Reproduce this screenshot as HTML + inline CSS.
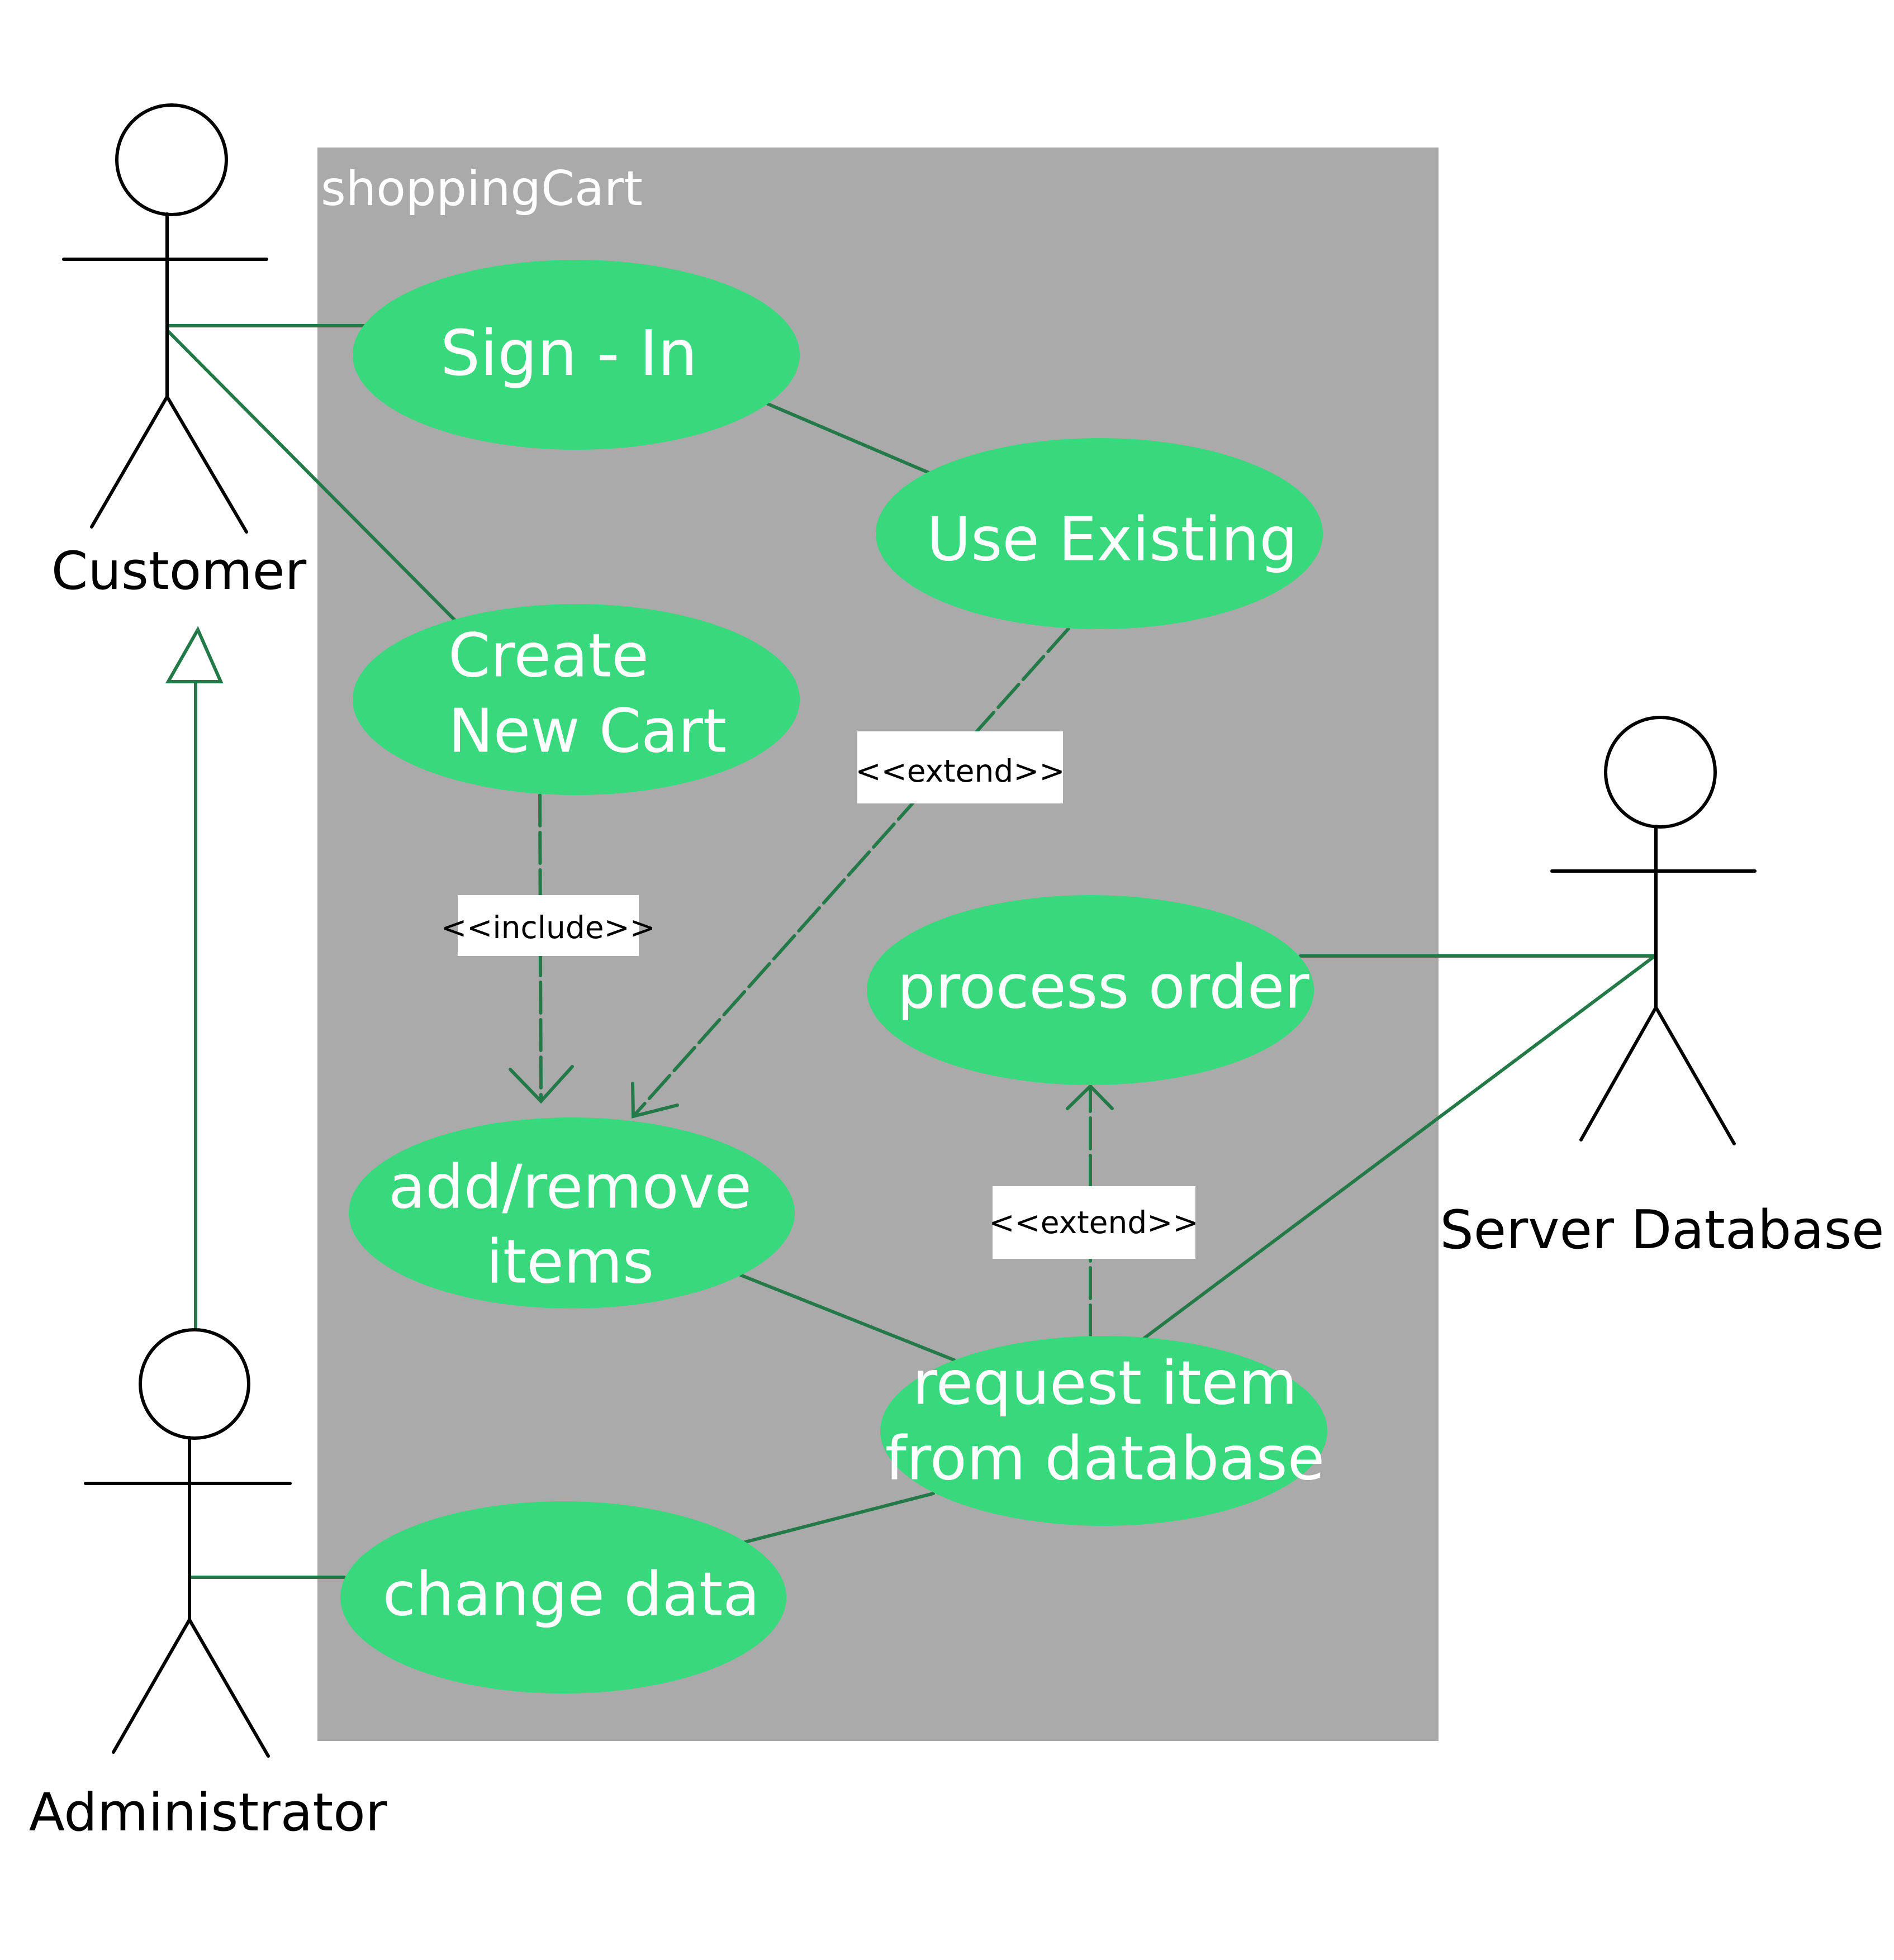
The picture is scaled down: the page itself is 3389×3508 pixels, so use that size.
<!DOCTYPE html>
<html><head><meta charset="utf-8"><style>html,body{margin:0;padding:0;background:#fff}svg{display:block}</style></head>
<body>
<svg width="3389" height="3508" viewBox="0 0 3389 3508" xmlns="http://www.w3.org/2000/svg" font-family="'DejaVu Sans', 'Liberation Sans', sans-serif">
<rect x="568" y="264" width="2006" height="2852" fill="#aaaaaa"/>
<text x="574" y="367" font-size="86" fill="#fff">shoppingCart</text>

<g stroke="#237a48" stroke-width="6" fill="none" stroke-linecap="round">
<line x1="299" y1="583" x2="660" y2="583"/>
<line x1="299" y1="591" x2="813" y2="1109"/>
<line x1="1374" y1="723" x2="1662" y2="846"/>
<line x1="1325" y1="2282" x2="1707" y2="2434"/>
<line x1="1333" y1="2760" x2="1670" y2="2673"/>
<line x1="339" y1="2823" x2="616" y2="2823"/>
<line x1="2961" y1="1711" x2="2327" y2="1711"/>
<line x1="2961" y1="1711" x2="2046" y2="2396"/>
<line x1="350" y1="1220" x2="350" y2="2376"/>
<polygon points="354,1127 301,1220 395,1220"/>
<g stroke-dasharray="55 12">
<line x1="966" y1="1423" x2="968" y2="1969"/>
<line x1="1912" y1="1125" x2="1135" y2="1996"/>
<line x1="1951" y1="2391" x2="1951" y2="1944"/>
</g>
<polyline points="913,1914 968,1971 1024,1909"/>
<polyline points="1132,1939 1133,1998 1212,1978"/>
<polyline points="1910,1984 1951,1944 1990,1984"/>
</g>

<g fill="#38d87c">
<ellipse cx="1031" cy="635" rx="400" ry="170"/>
<ellipse cx="1967" cy="955" rx="400" ry="171"/>
<ellipse cx="1031" cy="1252" rx="400" ry="171"/>
<ellipse cx="1951" cy="1772" rx="400" ry="170"/>
<ellipse cx="1023" cy="2171" rx="399" ry="171"/>
<ellipse cx="1975" cy="2561" rx="400" ry="170"/>
<ellipse cx="1008" cy="2859" rx="399" ry="172"/>
</g>

<g fill="#fff" font-size="108" dominant-baseline="central" text-anchor="middle">
<text x="1018" y="633" font-size="112">Sign - In</text>
<text x="1990" y="966">Use Existing</text>
<text x="802" y="1174" text-anchor="start">Create</text>
<text x="802" y="1309" text-anchor="start">New Cart</text>
<text x="1974" y="1767">process order</text>
<text x="1020" y="2125">add/remove</text>
<text x="1020" y="2259">items</text>
<text x="1977" y="2476">request item</text>
<text x="1977" y="2611">from database</text>
<text x="1022" y="2854">change data</text>
</g>

<g fill="#fff">
<rect x="819" y="1602" width="324" height="109"/>
<rect x="1534" y="1309" width="368" height="129"/>
<rect x="1776" y="2123" width="363" height="130"/>
</g>
<g font-size="55" dominant-baseline="central" text-anchor="middle" fill="#000">
<text x="981" y="1660">&lt;&lt;include&gt;&gt;</text>
<text x="1718" y="1380">&lt;&lt;extend&gt;&gt;</text>
<text x="1957" y="2188">&lt;&lt;extend&gt;&gt;</text>
</g>

<g stroke="#000" stroke-width="6" fill="none" stroke-linecap="round">
<circle cx="307" cy="286" r="98"/>
<line x1="299" y1="383" x2="299" y2="710"/>
<line x1="114" y1="464" x2="477" y2="464"/>
<polyline points="164,943 299,710 441,952"/>
<circle cx="348" cy="2477" r="97"/>
<line x1="339" y1="2573" x2="339" y2="2899"/>
<line x1="153" y1="2655" x2="519" y2="2655"/>
<polyline points="203,3136 339,2899 480,3143"/>
<circle cx="2971" cy="1382" r="98"/>
<line x1="2963" y1="1479" x2="2963" y2="1803"/>
<line x1="2777" y1="1559" x2="3140" y2="1559"/>
<polyline points="2829,2040 2963,1803 3103,2047"/>
</g>
<g fill="#000" text-anchor="middle">
<text x="320" y="1054" font-size="94">Customer</text>
<text x="372" y="3276" font-size="94">Administrator</text>
<text x="2974" y="2234" font-size="95">Server Database</text>
</g>
</svg>
</body></html>
